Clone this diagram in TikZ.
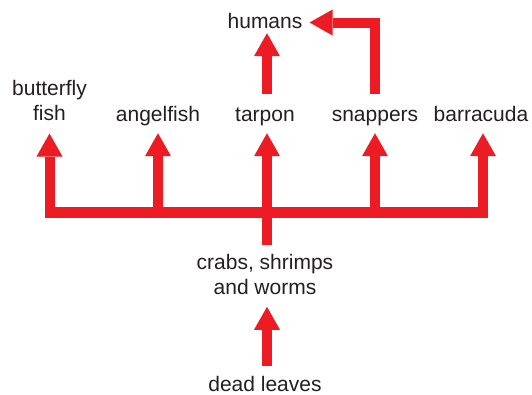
\documentclass[tikz,border=0pt]{standalone}
\usepackage{fontspec}
\setmainfont{Liberation Sans}
\usetikzlibrary{arrows.meta,calc}
\definecolor{fwred}{HTML}{ED1C24}
\definecolor{txt}{HTML}{231F20}
\begin{document}
\begin{tikzpicture}[x=1pt,y=-1pt,
  lbl/.style={font=\fontsize{21}{25}\selectfont, text=txt, inner sep=0pt, text height=15pt, text depth=4pt, anchor=base},
  lbltwo/.style={font=\fontsize{21}{25}\selectfont, text=txt, inner sep=0pt, align=center, anchor=north},
  flow/.style={draw=fwred, line width=10pt, line join=miter,
    -{Triangle[width=26pt,length=23pt,line width=0pt]}},
  stemline/.style={draw=fwred, line width=10pt},
  barline/.style={draw=fwred, line width=11pt}]
\useasboundingbox (0,0) rectangle (532,394);
% labels
\node[lbl] (humans) at (265,28) {humans};
\node[lbltwo] (butterfly) at (49.5,79.7) {butterfly\\fish};
\node[lbl] (angelfish) at (158,121) {angelfish};
\node[lbl] (tarpon) at (265,121) {tarpon};
\node[lbl] (snappers) at (375,121) {snappers};
\node[lbl] (barracuda) at (481,121) {barracuda};
\node[lbltwo] (crabs) at (265,254) {crabs, shrimps\\and worms};
\node[lbl, text depth=0pt] (leaves) at (265,391) {dead leaves};
\coordinate (hub) at (267,212.5);
% dead leaves -> crabs
\draw[flow] ([xshift=2pt,yshift=10pt]leaves.north) -- ([xshift=2pt,yshift=-12pt]crabs.south);
% crabs -> bar
\draw[stemline] ([xshift=2pt,yshift=9pt]crabs.north) -- (hub);
\draw[barline] ([xshift=-5pt]hub -| butterfly.south) -- ([xshift=7pt]hub -| barracuda.south);
% bar -> consumers
\draw[flow] (hub -| butterfly.south) -- ([yshift=-13pt]butterfly.south);
\draw[flow] (hub -| angelfish.south) -- ([yshift=-8pt]angelfish.south);
\draw[flow] ([xshift=2pt]hub -| tarpon.south) -- ([xshift=2pt,yshift=-8pt]tarpon.south);
\draw[flow] (hub -| snappers.south) -- ([yshift=-8pt]snappers.south);
\draw[flow] ([xshift=2pt]hub -| barracuda.south) -- ([xshift=2pt,yshift=-8pt]barracuda.south);
% to humans
\draw[flow] ([xshift=2pt,yshift=12pt]tarpon.north) -- ([xshift=2pt,yshift=-1pt]humans.south);
\draw[flow] ([yshift=12pt]snappers.north) |- ([xshift=7pt]humans.east);
\end{tikzpicture}
\end{document}
